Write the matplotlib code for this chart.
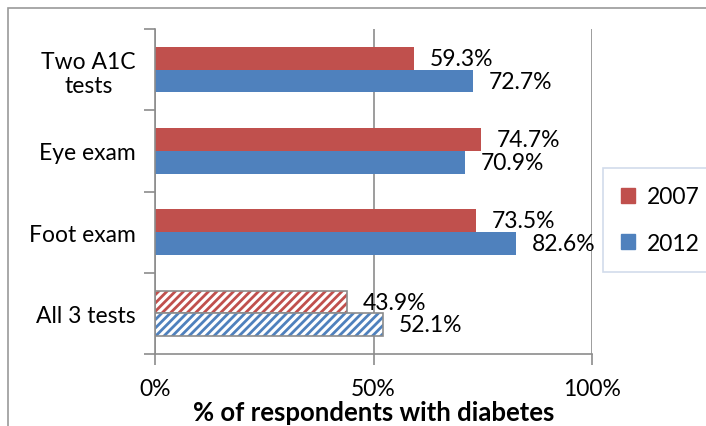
import matplotlib.pyplot as plt
import numpy as np
from matplotlib.patches import Rectangle

plt.rcParams['font.family'] = ['Lato', 'DejaVu Sans']
plt.rcParams['hatch.linewidth'] = 2.0

# Data (bottom to top)
categories = ['All 3 tests', 'Foot exam', 'Eye exam', 'Two A1C\ntests']
vals_2007 = [43.9, 73.5, 74.7, 59.3]
vals_2012 = [52.1, 82.6, 70.9, 72.7]

red = '#C0504D'
blue = '#4F81BD'
grey = '#8C8C8C'
fs = 16.5

fig = plt.figure(figsize=(7.06, 4.27), dpi=100)
ax = fig.add_axes([155/706, 1 - 355/427, 437/706, 325/427])

# outer chart border
fig.patches.append(Rectangle((8/706, -0.01), 1.0, 1 - 9/427 + 0.01, transform=fig.transFigure,
                             fill=False, edgecolor='#9A9A9A', lw=1.2))

y = np.arange(len(categories))
h = 0.28
for i in range(len(categories)):
    hatched = (i == 0)
    for val, off, col in [(vals_2007[i], h / 2, red), (vals_2012[i], -h / 2, blue)]:
        if hatched:
            ax.barh(y[i] + off, val, height=h, color='white', edgecolor=col, hatch='////', lw=0)
            ax.barh(y[i] + off, val, height=h, fill=False, edgecolor=grey, lw=1.2)
        else:
            ax.barh(y[i] + off, val, height=h, color=col, lw=0)
        ax.text(val + 3.6, y[i] + off, f'{val:.1f}%', va='center', ha='left', fontsize=fs)

ax.set_xlim(0, 100)
ax.set_ylim(-0.5, len(categories) - 0.5)
ax.set_xticks([0, 50, 100])
ax.set_xticklabels(['0%', '50%', '100%'], fontsize=fs)
ax.set_yticks(y)
ax.set_yticklabels(categories, fontsize=fs, multialignment='center')
ax.set_yticks(np.arange(-0.5, len(categories)), minor=True)
ax.tick_params(axis='y', which='major', length=0, pad=14)
ax.tick_params(axis='y', which='minor', length=8, color=grey, width=1.2)
ax.tick_params(axis='x', length=8, color=grey, width=1.2, pad=9)
ax.grid(axis='x', color=grey, lw=1.2)
ax.set_axisbelow(True)
for s in ['top', 'right']:
    ax.spines[s].set_visible(False)
for s in ['left', 'bottom']:
    ax.spines[s].set_color(grey)
    ax.spines[s].set_linewidth(1.2)

ax.set_xlabel('% of respondents with diabetes', fontsize=18.5, fontweight='bold', labelpad=1)

handles = [Rectangle((0, 0), 1, 1, color=red), Rectangle((0, 0), 1, 1, color=blue)]
leg = fig.legend(handles, ['2007', '2012'], loc='center left', bbox_to_anchor=(603/706, 1 - 221/427),
                 fontsize=fs, frameon=True, fancybox=False, handlelength=0.6, handleheight=0.6,
                 labelspacing=1.1, borderpad=0.8, handletextpad=0.5, borderaxespad=0)
leg.get_frame().set_edgecolor('#C6D3E6')
leg.get_frame().set_linewidth(1.2)

fig.savefig('out.png', dpi=100)
